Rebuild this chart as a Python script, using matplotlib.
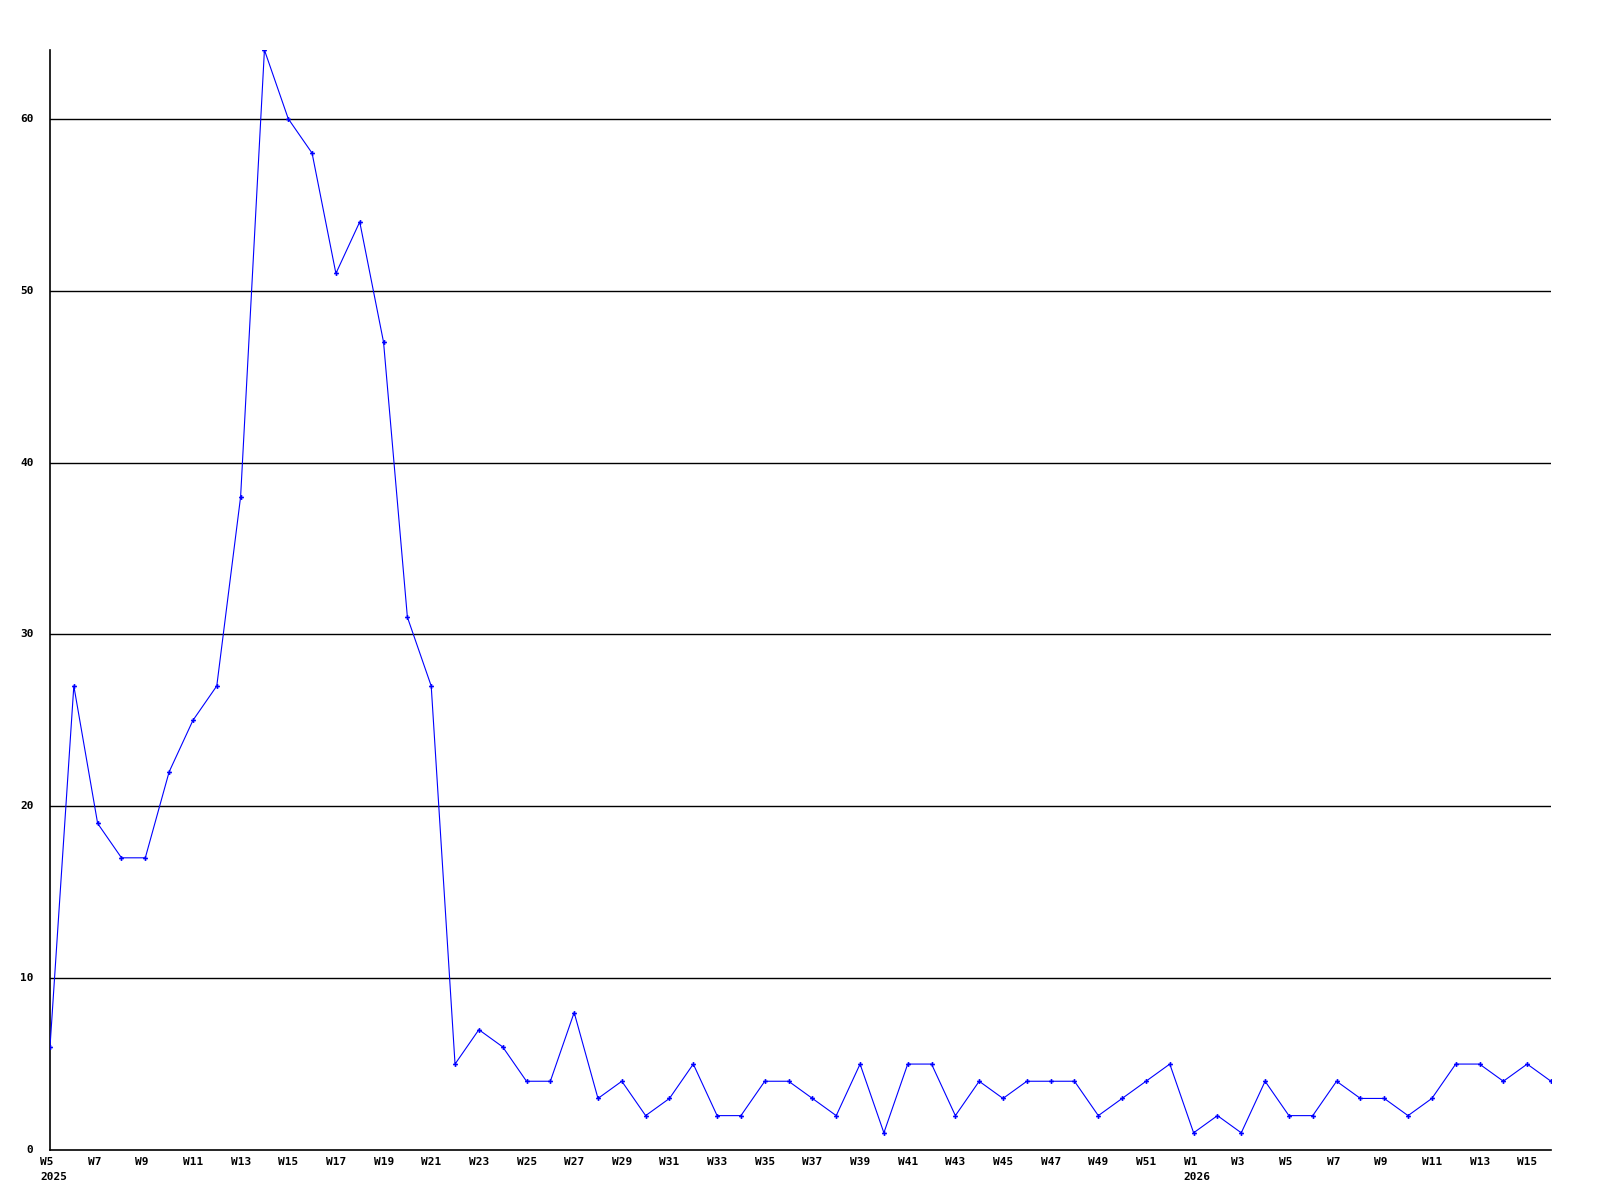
import numpy as np
import matplotlib.pyplot as plt

# weekly counts, 2025 W5 .. 2026 W16
weeks_2025 = list(range(5, 53))
weeks_2026 = list(range(1, 17))
values_2025 = [6, 27, 19, 17, 17, 22, 25, 27, 38, 64, 60, 58, 51, 54, 47, 31, 27,
               5, 7, 6, 4, 4, 8, 3, 4, 2, 3, 5, 2, 2, 4, 4, 3, 2, 5, 1, 5, 5,
               2, 4, 3, 4, 4, 4, 2, 3, 4, 5]
values_2026 = [1, 2, 1, 4, 2, 2, 4, 3, 3, 2, 3, 5, 5, 4, 5, 4]
year_labels = ["2025", "2026"]
yticks = [0, 10, 20, 30, 40, 50, 60]

week_labels = ["W%d" % w for w in weeks_2025] + ["W%d" % w for w in weeks_2026]
values = values_2025 + values_2026
x = np.arange(len(values))

fig = plt.figure(figsize=(16, 12), dpi=100)
ax = fig.add_axes([50 / 1600, 50 / 1200, 1501 / 1600, 1100 / 1200])

for y in yticks[1:]:
    ax.axhline(y, color="black", linewidth=1.0, zorder=1)

ax.plot(x, values, color="#0000ff", linewidth=0.8, marker="P", markersize=3.5,
        markeredgewidth=0, zorder=3)

ax.set_xlim(0, len(values) - 1)
ax.set_ylim(0, 64)

for side in ["top", "right"]:
    ax.spines[side].set_visible(False)
for side in ["left", "bottom"]:
    ax.spines[side].set_linewidth(1.2)

font = dict(family="DejaVu Sans Mono", fontweight="bold", fontsize=8)

ax.set_xticks([])
ax.set_yticks([])
trans = ax.get_xaxis_transform()
for i in range(0, len(values), 2):
    ax.text(i - 0.42, -0.006, week_labels[i], transform=trans, ha="left", va="top", **font)
ax.text(0 - 0.42, -0.020, year_labels[0], transform=trans, ha="left", va="top", **font)
ax.text(len(weeks_2025) - 0.42, -0.020, year_labels[1], transform=trans, ha="left", va="top", **font)

ytrans = ax.get_yaxis_transform()
for y in yticks:
    ax.text(-0.011, y, str(y), transform=ytrans, ha="right", va="center", **font)

fig.savefig("out.png", dpi=100)
